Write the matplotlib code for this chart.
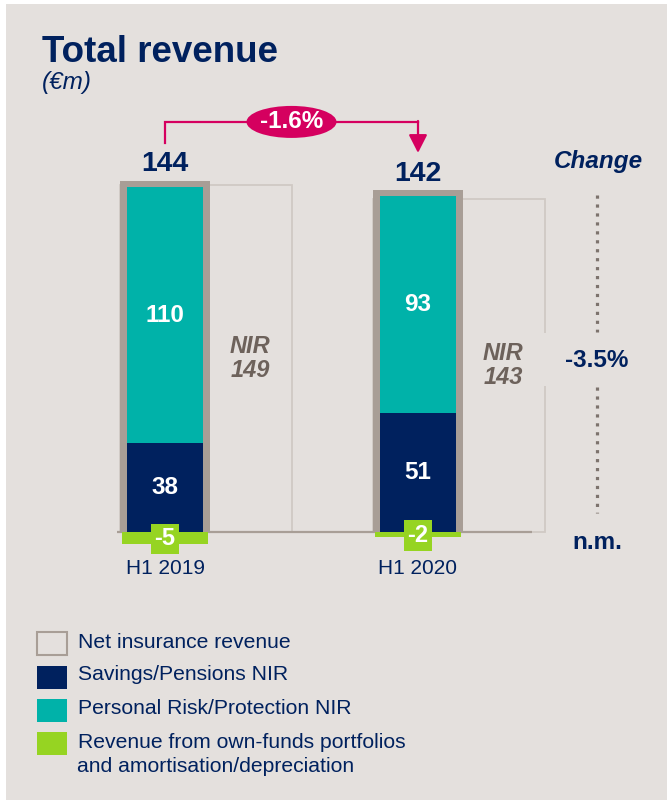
import matplotlib
matplotlib.use("Agg")
import matplotlib.pyplot as plt
from matplotlib.patches import Rectangle, Ellipse
import numpy as np

plt.rcParams['font.family'] = ['Liberation Sans', 'DejaVu Sans']

# ---- data ----
periods = ["H1 2019", "H1 2020"]
savings = [38, 51]            # Savings/Pensions NIR
protection = [110, 93]        # Personal Risk/Protection NIR
own_funds = [-5, -2]          # Revenue from own-funds portfolios and amortisation/depreciation
nir = [149, 143]              # Net insurance revenue
totals = [144, 142]           # Total revenue
total_change = "-1.6%"
nir_change = "-3.5%"
own_funds_change = "n.m."
legend_labels = ["Net insurance revenue", "Savings/Pensions NIR",
                 "Personal Risk/Protection NIR",
                 "Revenue from own-funds portfolios\nand amortisation/depreciation"]

# ---- style ----
BG = "#E4E0DD"
NAVY = "#00215E"
TEAL = "#00B2A9"
GREEN = "#96D422"
FRAME = "#A89E96"
NIRLINE = "#D0C9C4"
NIRTXT = "#6D625B"
MAGENTA = "#D5005F"
DOTS = "#7D736D"

W, H = 667, 801
fig = plt.figure(figsize=(W / 100, H / 100), dpi=100)
fig.patch.set_facecolor("white")
fig.add_artist(Rectangle((6 / W, 1 / H), 1 - 6 / W, 1 - 5 / H, transform=fig.transFigure,
                         facecolor=BG, edgecolor="none", zorder=0))

def fx(px):
    return px / W

def fy(py):
    return 1 - py / H

# axes geometry: 2.33 px per unit on y, 253 px per category on x
ppu = 2.33
ppx = 253.0
ylo, yhi = -20, 200
xlo, xhi = -0.5, 1.85
base_px = 532
x0_px = 165
ax_left = x0_px + xlo * ppx
ax_bottom_px = base_px - ylo * ppu
ax = fig.add_axes([ax_left / W, (H - ax_bottom_px) / H,
                   (xhi - xlo) * ppx / W, (yhi - ylo) * ppu / H])
ax.set_xlim(xlo, xhi)
ax.set_ylim(ylo, yhi)
ax.axis("off")
ax.patch.set_alpha(0)

x = np.arange(len(periods))
bar_w = 0.30
frame_w = 0.352
frame_pad = 6 / ppu
stack = np.array(savings) + np.array(protection)

# NIR outline box
ax.bar(x - frame_w / 2, nir, width=frame_w / 2 + 0.5, align="edge", fill=False,
       edgecolor=NIRLINE, linewidth=1.3, zorder=1)
# grey frame behind stacked bar
ax.bar(x, stack + frame_pad, width=frame_w, color=FRAME, zorder=2)
ax.bar(x, savings, width=bar_w, color=NAVY, zorder=3)
ax.bar(x, protection, bottom=savings, width=bar_w, color=TEAL, zorder=3)
# baseline
ax.plot([-0.19, 1.45], [0, 0], color=FRAME, lw=1.6, zorder=2, solid_capstyle="butt")
# own funds
ax.bar(x, own_funds, width=0.34, color=GREEN, zorder=4)

for i in range(len(x)):
    ax.text(x[i], savings[i] / 2, f"{savings[i]}", ha="center", va="center",
            color="white", fontsize=17.5, fontweight="bold", zorder=5)
    ax.text(x[i], savings[i] + protection[i] / 2, f"{protection[i]}", ha="center",
            va="center", color="white", fontsize=17.5, fontweight="bold", zorder=5)
    ax.text(x[i], own_funds[i] / 2 - 0.5, f"{own_funds[i]}", ha="center", va="center",
            color="white", fontsize=17, fontweight="bold", zorder=6,
            bbox=dict(boxstyle="square,pad=0.15", facecolor=GREEN, edgecolor="none"))
    ax.annotate(f"{totals[i]}", (x[i], stack[i] + frame_pad), xytext=(0, 7),
                textcoords="offset points", ha="center", va="baseline",
                color=NAVY, fontsize=20.5, fontweight="bold")
    ax.annotate(periods[i], (x[i], 0), xytext=(0, -26.5), textcoords="offset points",
                ha="center", va="center", color=NAVY, fontsize=15)
    ax.text(x[i] + 0.337, nir[i] / 2, f"NIR\n{nir[i]}", ha="center", va="center",
            color=NIRTXT, fontsize=17, fontweight="bold", fontstyle="italic",
            linespacing=1.05, zorder=5)

# total change connector
y_top = max(totals) + 32
ax.plot([x[0], x[0], x[1]], [totals[0] + 23, y_top, y_top], color=MAGENTA, lw=1.6,
        zorder=6, solid_joinstyle="miter")
ax.annotate("", xy=(x[1], totals[1] + 20.7), xytext=(x[1], y_top + 0.4),
            arrowprops=dict(arrowstyle="-|>,head_length=0.55,head_width=0.28",
                            mutation_scale=20, color=MAGENTA, lw=1.6,
                            shrinkA=0, shrinkB=0), zorder=6)
ax.add_patch(Ellipse(((x[0] + x[1]) / 2, y_top), width=90 / ppx, height=32 / ppu,
                     facecolor=MAGENTA, edgecolor="none", zorder=7))
ax.text((x[0] + x[1]) / 2, y_top, total_change, ha="center", va="center",
        color="white", fontsize=17.5, fontweight="bold", zorder=8)

# change column
xc = (597 - x0_px) / ppx
ax.text(xc + 0.005, 159.0, "Change", ha="center", va="center", color=NAVY,
        fontsize=17.5, fontweight="bold", fontstyle="italic")
ax.add_patch(Rectangle((1.482, 62.7), 0.4, 22.7, facecolor=BG, edgecolor="none", zorder=4))
ax.plot([xc, xc], [144.6, 85.8], color=DOTS, lw=2.3, linestyle=(0, (1, 1.8)),
        dash_capstyle="butt", zorder=5)
ax.plot([xc, xc], [62.2, 8.2], color=DOTS, lw=2.3, linestyle=(0, (1, 1.8)),
        dash_capstyle="butt", zorder=5)
ax.text(xc, 73.8, nir_change, ha="center", va="center", color=NAVY, fontsize=17.5,
        fontweight="bold", zorder=6)
ax.text(xc, -4.7, own_funds_change, ha="center", va="center", color=NAVY, fontsize=17.5,
        fontweight="bold", zorder=6)

# title
fig.text(fx(42), fy(62), "Total revenue", ha="left", va="baseline", color=NAVY,
         fontsize=26.5, fontweight="bold")
fig.text(fx(42), fy(83), "(€m)", ha="left", va="center", color=NAVY,
         fontsize=17.5, fontstyle="italic")

# legend (manual)
box_tops = [632, 666, 699, 732]
text_y = [642, 675, 708, 742]
fills = [BG, NAVY, TEAL, GREEN]
edges = [FRAME, NAVY, TEAL, GREEN]
for i, lab in enumerate(legend_labels):
    fig.add_artist(Rectangle((fx(37), fy(box_tops[i] + 23)), 30 / W, 23 / H,
                             transform=fig.transFigure, facecolor=fills[i],
                             edgecolor=edges[i], linewidth=1.5 if i == 0 else 0))
    lines = lab.split("\n")
    for j, ln in enumerate(lines):
        fig.text(fx(78 if j == 0 else 77), fy(text_y[i] + 25 * j), ln, ha="left",
                 va="center", color=NAVY, fontsize=15.2)

fig.savefig("out.png", dpi=100, facecolor=fig.get_facecolor())
